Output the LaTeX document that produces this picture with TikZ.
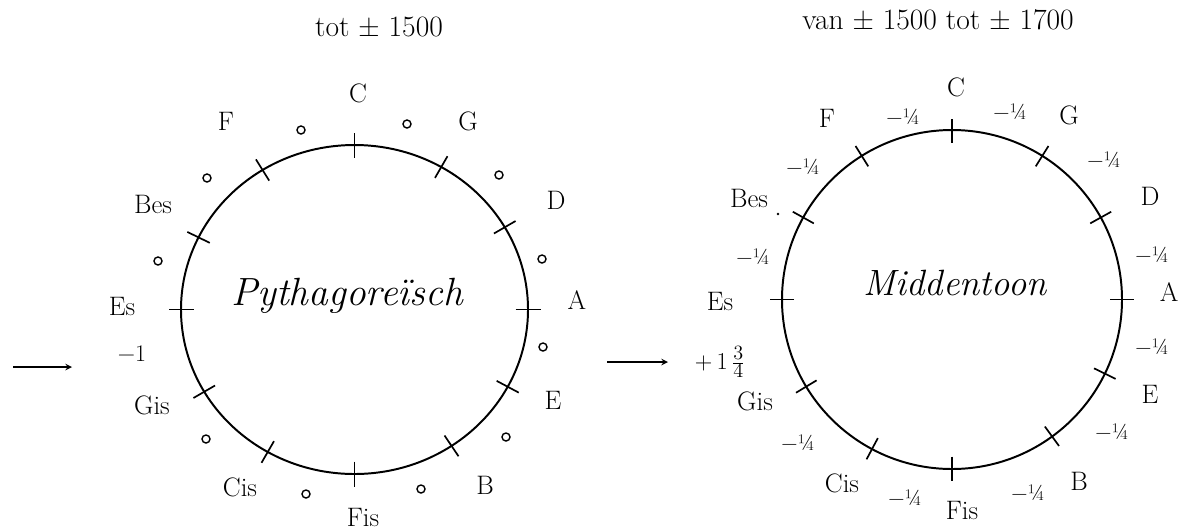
\documentclass[tikz,border=0pt]{standalone}
\usepackage{fontspec}
\usetikzlibrary{positioning}

\newcommand{\minq}{−¼}

\begin{document}
\begin{tikzpicture}[x=0.025cm, y=-0.025cm, font=\fontsize{19}{22}\selectfont]
  \tikzstyle{lbl}=[inner sep=1pt]
  \tikzstyle{ttl}=[inner sep=1pt, font=\fontsize{21}{24}\selectfont]
  \tikzstyle{qtr}=[inner sep=0pt, font=\fontsize{16}{18}\selectfont]
  \tikzstyle{hand}=[inner sep=0pt, anchor=base, font=\itshape]
  \tikzstyle{dot}=[circle, draw, line width=1pt, inner sep=0pt, minimum size=0.2cm]
  \tikzstyle{ring}=[line width=1.4pt]
  \tikzstyle{tick}=[line width=1.2pt]
  \tikzstyle{arr}=[->, >=stealth, line width=1.1pt]
  \useasboundingbox (0,0) rectangle (1184,529);

  % titles
  \node[ttl] (t1) at (379,27) {tot ± 1500};
  \node[ttl] (t2) at (938,20) {van ± 1500 tot ± 1700};

  % left circle: Pythagoreisch
  \draw[ring] (354.5,309.5) ellipse [x radius=173.5, y radius=164.5];
  \begin{scope}[shift={(354.5,309.5)}, yscale=-1]
    \foreach \a in {90,60,30,0,-28,-56,-90,-120,-150,180,154,122}
      \draw[tick] (\a:161 and 152) -- (\a:186 and 177);
  \end{scope}
  \node[hand, font=\fontsize{28}{30}\selectfont\itshape] (lname) at (347,305) {Pythagoreïsch};

  \node[lbl] (lC) at (358,93) {C};
  \node[lbl] (lG) at (468,121) {G};
  \node[lbl] (lD) at (556,200) {D};
  \node[lbl] (lA) at (577,300) {A};
  \node[lbl] (lE) at (553,400) {E};
  \node[lbl] (lB) at (485,485) {B};
  \node[lbl] (lFis) at (363,517) {Fis};
  \node[lbl] (lCis) at (240,487) {Cis};
  \node[lbl] (lGis) at (152,405) {Gis};
  \node[lbl] (lEs) at (122,306) {Es};
  \node[lbl] (lBes) at (153,204) {Bes};
  \node[lbl] (lF) at (226,121) {F};

  \node[dot] (lo1) at (407,124) {};
  \node[dot] (lo2) at (499,175) {};
  \node[dot] (lo3) at (542,259) {};
  \node[dot] (lo4) at (543,347) {};
  \node[dot] (lo5) at (506,437) {};
  \node[dot] (lo6) at (421,489) {};
  \node[dot] (lo7) at (306,494) {};
  \node[dot] (lo8) at (206,439) {};
  \node[dot] (lo9) at (158,261) {};
  \node[dot] (lo10) at (207,178) {};
  \node[dot] (lo11) at (301,130) {};
  \node[lbl, font=\fontsize{17}{19}\selectfont] (lmin) at (132,354) {−1};

  \coordinate (la0) at (13,367);
  \coordinate (la1) at (72,367);
  \draw[arr] (la0) -- (la1);

  % right circle: Middentoon
  \draw[ring] (952,299.5) ellipse [x radius=170, y radius=169.5];
  \begin{scope}[shift={(952,299.5)}, yscale=-1]
    \foreach \a in {90,58,29,0,-26,-54,-90,-118,-149,180,151,122}
      \draw[tick] (\a:158 and 157) -- (\a:182 and 181);
  \end{scope}
  \node[hand, font=\fontsize{26}{28}\selectfont\itshape] (rname) at (955,295) {Middentoon};

  \node[lbl] (rC) at (956,87) {C};
  \node[lbl] (rG) at (1069,115) {G};
  \node[lbl] (rD) at (1150,196) {D};
  \node[lbl] (rA) at (1169,292) {A};
  \node[lbl] (rE) at (1150,394) {E};
  \node[lbl] (rB) at (1079,481) {B};
  \node[lbl] (rFis) at (962,510) {Fis};
  \node[lbl] (rCis) at (842,483) {Cis};
  \node[lbl] (rGis) at (755,401) {Gis};
  \node[lbl] (rEs) at (720,301) {Es};
  \node[lbl] (rBes) at (749,198) {Bes};
  \node[lbl] (rF) at (827,118) {F};

  \node[qtr] (rq1) at (903,117) {\minq};
  \node[qtr] (rq2) at (1010,112) {\minq};
  \node[qtr] (rq3) at (1104,160) {\minq};
  \node[qtr] (rq4) at (1152,255) {\minq};
  \node[qtr] (rq5) at (1152,347) {\minq};
  \node[qtr] (rq6) at (1112,432) {\minq};
  \node[qtr] (rq7) at (1028,493) {\minq};
  \node[qtr] (rq8) at (905,498) {\minq};
  \node[qtr] (rq9) at (798,443) {\minq};
  \node[qtr] (rq10) at (753,257) {\minq};
  \node[qtr] (rq11) at (803,167) {\minq};
  \fill (778,214) circle [radius=1.4];
  \node[lbl, font=\fontsize{19}{21}\selectfont] (rplus) at (720,362) {$+\,1\,\frac{3}{4}$};

  \coordinate (ra0) at (607,362);
  \coordinate (ra1) at (668,362);
  \draw[arr] (ra0) -- (ra1);
\end{tikzpicture}
\end{document}
